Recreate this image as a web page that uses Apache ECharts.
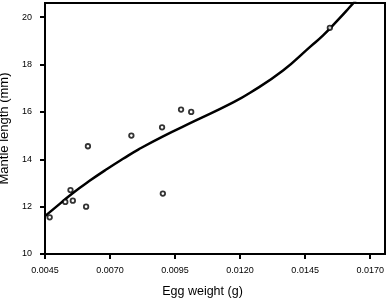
<!DOCTYPE html>
<html>
<head>
<meta charset="utf-8">
<script src="https://cdn.jsdelivr.net/npm/echarts@6/dist/echarts.min.js"></script>
<style>
  html, body { margin: 0; padding: 0; background: #fff; }
  #chart { width: 387px; height: 299px; }
</style>
</head>
<body>
<div id="chart"></div>
<script>
// observed points
var eggWeight = [0.00468, 0.00528, 0.00548, 0.00557, 0.00608, 0.00615, 0.00782, 0.00900, 0.00903, 0.00973, 0.01012, 0.01545];
var mantleLength = [11.55, 12.2, 12.7, 12.25, 12.0, 14.55, 15.0, 15.35, 12.55, 16.1, 16.0, 19.55];

// fitted curve
var fitX = [0.0045, 0.0051, 0.0056, 0.0062, 0.0069, 0.0075, 0.0081, 0.0090, 0.0103, 0.0116, 0.0124, 0.01365, 0.0147, 0.0152, 0.0158, 0.0162, 0.0166];
var fitY = [11.6, 12.15, 12.6, 13.08, 13.6, 14.02, 14.42, 14.95, 15.64, 16.33, 16.82, 17.75, 18.76, 19.24, 19.93, 20.41, 20.9];

var xTicks = [0.0045, 0.0070, 0.0095, 0.0120, 0.0145, 0.0170];
var yTicks = [10, 12, 14, 16, 18, 20];

var font = 'Liberation Sans, Arial, sans-serif';

var points = eggWeight.map(function (x, i) { return [x, mantleLength[i]]; });
var curve = fitX.map(function (x, i) { return [x, fitY[i]]; });

echarts.init(document.getElementById('chart')).setOption({
    animation: false,
    grid: {
        left: 45, right: 2, top: 3, bottom: 45,
        outerBoundsMode: 'none',
        containLabel: false,
        show: true,
        borderColor: '#000',
        borderWidth: 2
    },
    xAxis: {
        type: 'value',
        min: 0.0045,
        max: 0.01757,
        name: 'Egg weight (g)',
        nameLocation: 'middle',
        nameGap: 31,
        nameTextStyle: { color: '#000', fontSize: 12.5, fontFamily: font, padding: [0, 25, 0, 0] },
        splitLine: { show: false },
        axisLine: { lineStyle: { color: '#000', width: 2 } },
        axisTick: { length: 5, lineStyle: { color: '#000', width: 2 }, customValues: xTicks },
        axisLabel: {
            color: '#000', fontSize: 9, fontFamily: font, margin: 12,
            customValues: xTicks,
            formatter: function (v) { return v.toFixed(4); }
        }
    },
    yAxis: {
        type: 'value',
        min: 10,
        max: 20.6,
        name: 'Mantle length (mm)',
        nameLocation: 'middle',
        nameGap: 30,
        nameTextStyle: { color: '#000', fontSize: 13, fontFamily: font },
        splitLine: { show: false },
        axisLine: { lineStyle: { color: '#000', width: 2 } },
        axisTick: { length: 5, lineStyle: { color: '#000', width: 2 }, customValues: yTicks },
        axisLabel: { color: '#000', fontSize: 9, fontFamily: font, margin: 13, customValues: yTicks }
    },
    series: [{
        type: 'line',
        data: curve,
        smooth: 0.5,
        symbol: 'none',
        clip: true,
        lineStyle: { color: '#000', width: 2.5 }
    }, {
        type: 'scatter',
        data: points,
        symbol: 'circle',
        symbolSize: 4.5,
        itemStyle: { color: '#fff', borderColor: '#000', borderWidth: 1.8 },
        z: 3
    }]
});
</script>
</body>
</html>
